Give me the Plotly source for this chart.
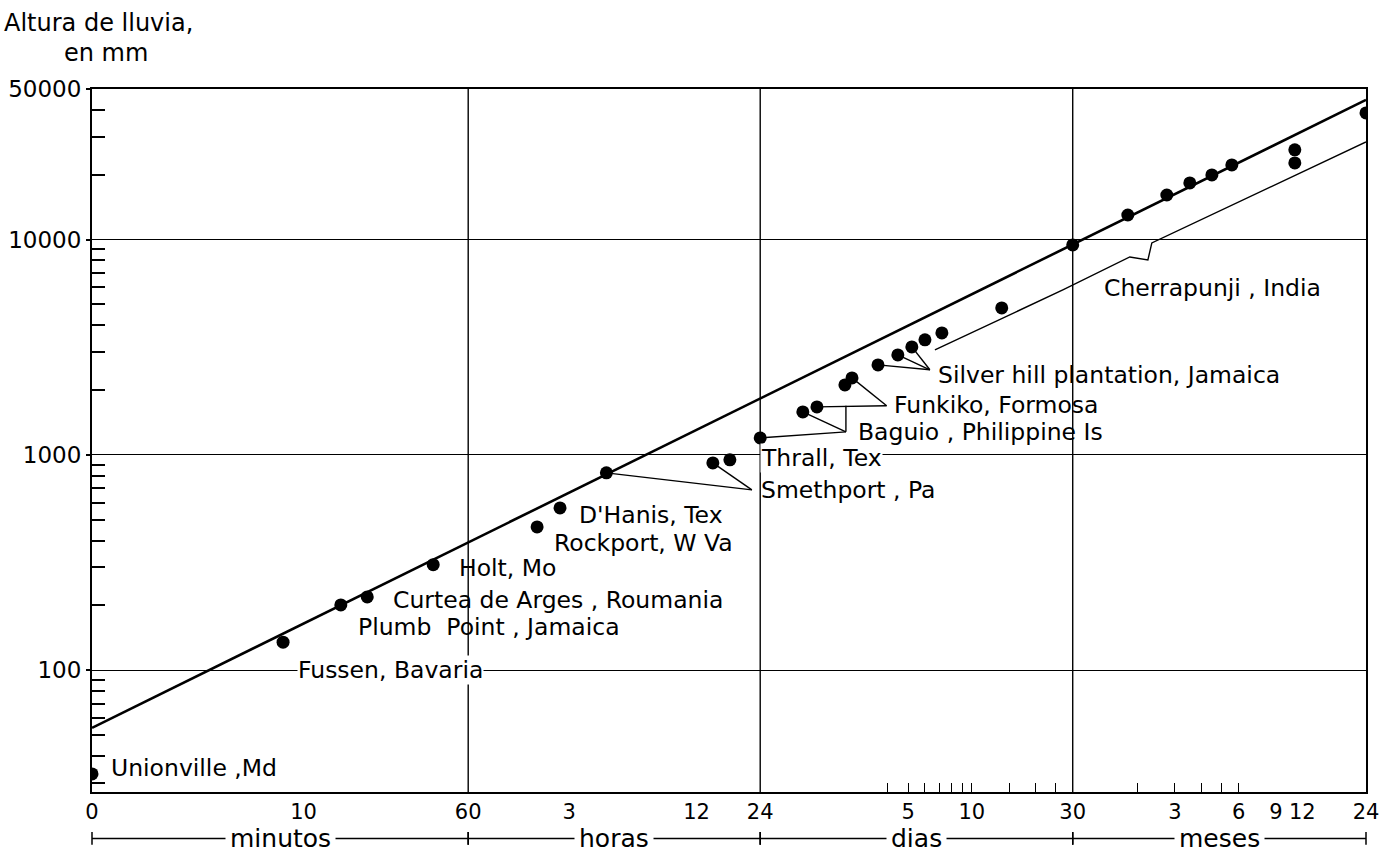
import numpy as np
import plotly.graph_objects as go

# ---- duration units, in minutes ----
HORA = 60
DIA = 24 * HORA
MES = 365 / 12 * DIA

# ---- world record point rainfalls ----
estacion = (
    ["Unionville, Md", "Fussen, Bavaria", "Plumb Point, Jamaica",
     "Curtea de Arges, Roumania", "Holt, Mo", "Rockport, W Va", "D'Hanis, Tex",
     "Smethport, Pa", "Smethport, Pa", "Thrall, Tex"]
    + ["Baguio, Philippine Is"] * 3
    + ["Funkiko, Formosa"] * 2
    + ["Silver hill plantation, Jamaica"] * 5
    + ["Cherrapunji, India"] * 10
)
duracion_min = [1, 8, 15, 20, 41, 127, 163, 270, 860, 1035,
                1440, 2290, 2670,
                3620, 3910,
                5190, 6440, 7500, 8650, 10400,
                19950, 30 * DIA, 78700, 120300, 154500, 196400, 244100,
                484400, 484400, 24 * MES]
lluvia_mm = [33, 135, 201, 219, 309, 463, 567, 825, 918, 948,
             1199, 1583, 1670,
             2113, 2278,
             2617, 2912, 3172, 3420, 3685,
             4814, 9440, 13000, 16100, 18320, 19950, 22200,
             26080, 22680, 38700]

# straight envelope of the records
envolvente_min = [1, 24 * MES]
envolvente_mm = [54, 44500]

# thin line running under the Cherrapunji records
cherra_min = [9640, 38800, 80400, 97900, 102200, 24 * MES]
cherra_mm = [3073, 5835, 8300, 8040, 9640, 28380]

# axis ticks
x_tickvals = [1, 10, 60, 3 * HORA, 12 * HORA, 24 * HORA, 5 * DIA, 10 * DIA,
              30 * DIA, 3 * MES, 6 * MES, 9 * MES, 12 * MES, 24 * MES]
x_ticktext = ["0", "10", "60", "3", "12", "24", "5", "10", "30",
              "3", "6", "9", "12", "24"]
x_minor = [d * DIA for d in (4, 5, 6, 7, 8, 9, 10, 15, 20, 25)] + \
          [m * MES for m in (2, 3, 4, 5, 6)]
x_grid = [60, DIA, 30 * DIA]
y_tickvals = [100, 1000, 10000, 50000]
y_ticktext = ["100", "1000", "10000", "50000"]
y_minor = ([v for v in range(30, 100, 10)] + [v for v in range(200, 1000, 100)]
           + [v for v in range(2000, 10000, 1000)] + [20000, 30000, 40000])

# unit bands under the axis
bandas = [("minutos", 1, 60), ("horas", 60, DIA), ("dias", DIA, 30 * DIA),
          ("meses", 30 * DIA, 24 * MES)]

# label text, left edge (min), vertical centre (mm), white backing
etiquetas = [
    ("Unionville ,Md", 1.22, 35, False),
    ("Fussen, Bavaria", 9.3, 100, True),
    ("Plumb  Point , Jamaica", 17.9, 159, False),
    ("Curtea de Arges , Roumania", 26.2, 212, False),
    ("Holt, Mo", 53.7, 298, False),
    ("Rockport, W Va", 151, 390, False),
    ("D'Hanis, Tex", 198, 527, False),
    ("Thrall, Tex", 1435, 968, True),
    ("Smethport , Pa", 1435, 688, False),
    ("Baguio , Philippine Is", 4120, 1279, False),
    ("Funkiko, Formosa", 6100, 1707, False),
    ("Silver hill plantation, Jamaica", 9850, 2350, False),
    ("Cherrapunji , India", 60000, 5960, False),
]

# leader lines: record index -> label anchor (min, mm)
guias = [
    (7, 1315, 688), (8, 1315, 688),
    (10, 3660, 1279), (11, 3660, 1279),
    (12, 5700, 1690), (14, 5700, 1690),
    (15, 9125, 2484), (16, 9125, 2484), (17, 9125, 2484),
]
corchete_min = [3660, 3660]
corchete_mm = [1690, 1279]

FUENTE = "DejaVu Sans"
X_MAX = 24 * MES

fig = go.Figure()

# leaders
gx, gy = [], []
for i, ax_, ay_ in guias:
    gx += [duracion_min[i], ax_, None]
    gy += [lluvia_mm[i], ay_, None]
gx += corchete_min + [None]
gy += corchete_mm + [None]
fig.add_trace(go.Scatter(x=gx, y=gy, mode="lines",
                         line=dict(color="black", width=1.4),
                         hoverinfo="skip", showlegend=False))

fig.add_trace(go.Scatter(x=cherra_min, y=cherra_mm, mode="lines",
                         line=dict(color="black", width=1.4),
                         hoverinfo="skip", showlegend=False))

fig.add_trace(go.Scatter(x=envolvente_min, y=envolvente_mm, mode="lines",
                         line=dict(color="black", width=2.6),
                         showlegend=False))

fig.add_trace(go.Scatter(x=duracion_min, y=lluvia_mm, mode="markers",
                         marker=dict(color="black", size=13),
                         text=estacion, showlegend=False,
                         hovertemplate="%{text}<br>%{x} min<br>%{y} mm<extra></extra>"))

shapes = []
for v in x_grid:
    shapes.append(dict(type="line", xref="x", yref="paper", x0=v, x1=v,
                       y0=0, y1=1, layer="below",
                       line=dict(color="black", width=1.4)))

# band line under the tick labels
Y_BANDA = -0.066
lmax = np.log10(X_MAX)
shapes.append(dict(type="line", xref="paper", yref="paper", x0=0, x1=1,
                   y0=Y_BANDA, y1=Y_BANDA, line=dict(color="black", width=1.5)))
for _, a, b in bandas:
    for v in (a, b):
        f = np.log10(v) / lmax
        shapes.append(dict(type="line", xref="paper", yref="paper", x0=f, x1=f,
                           y0=Y_BANDA - 0.009, y1=Y_BANDA + 0.009,
                           line=dict(color="black", width=1.5)))

annotations = []
for nombre, a, b in bandas:
    f = (np.log10(a) + np.log10(b)) / 2 / lmax
    annotations.append(dict(text=nombre, xref="paper", yref="paper", x=f,
                             y=Y_BANDA, xanchor="center", yanchor="middle",
                             showarrow=False, bgcolor="white", borderpad=4,
                             font=dict(family=FUENTE, size=25, color="black")))

for texto, xm, ym, fondo in etiquetas:
    annotations.append(dict(text=texto, xref="x", yref="y",
                            x=np.log10(xm), y=np.log10(ym),
                            xanchor="left", yanchor="middle", showarrow=False,
                            bgcolor="white" if fondo else "rgba(0,0,0,0)",
                            borderpad=0,
                            font=dict(family=FUENTE, size=23.5, color="black")))

annotations.append(dict(text="Altura de lluvia,", xref="paper", yref="paper",
                        x=-0.071, y=1.094, xanchor="left", yanchor="middle",
                        showarrow=False,
                        font=dict(family=FUENTE, size=24, color="black")))
annotations.append(dict(text="en mm", xref="paper", yref="paper",
                        x=0.011, y=1.051, xanchor="center", yanchor="middle",
                        showarrow=False,
                        font=dict(family=FUENTE, size=24, color="black")))

fig.update_xaxes(
    type="log", range=[0, lmax], automargin=False,
    tickmode="array", tickvals=x_tickvals, ticktext=x_ticktext,
    ticks="", showgrid=False, zeroline=False,
    showline=True, linecolor="black", linewidth=2, mirror=True,
    tickfont=dict(family=FUENTE, size=21, color="black"),
    minor=dict(tickmode="array", tickvals=x_minor, ticks="inside",
               ticklen=9, tickwidth=1.3, tickcolor="black", showgrid=False),
)
fig.update_yaxes(
    type="log", range=[np.log10(27.2), np.log10(50000)], automargin=False,
    tickmode="array", tickvals=y_tickvals, ticktext=y_ticktext,
    ticks="outside", ticklen=4, tickwidth=1.5, tickcolor="black",
    showgrid=True, gridcolor="black", gridwidth=1.4, zeroline=False,
    showline=True, linecolor="black", linewidth=2, mirror=True,
    tickfont=dict(family=FUENTE, size=23, color="black"),
    minor=dict(tickmode="array", tickvals=y_minor, ticks="inside",
               ticklen=13, tickwidth=1.5, tickcolor="black", showgrid=False),
)

fig.update_layout(
    width=1394, height=853,
    margin=dict(l=92, r=28, t=89, b=61),
    paper_bgcolor="white", plot_bgcolor="white",
    shapes=shapes, annotations=annotations,
    showlegend=False,
)

fig.write_html("out.html")
